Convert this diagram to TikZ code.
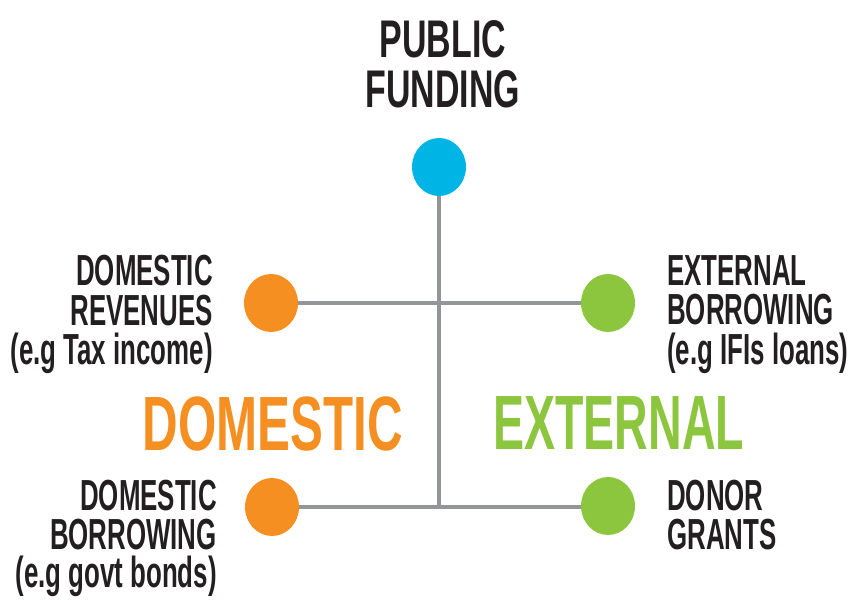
\documentclass[tikz,border=0pt]{standalone}
\usepackage{fontspec}
\usetikzlibrary{shapes.geometric}
\newfontfamily\cfsmall[FakeStretch=0.595]{Liberation Sans}
\newfontfamily\cfbig[FakeStretch=0.64]{Liberation Sans}
\newfontfamily\cfbigb[FakeStretch=0.605]{Liberation Sans}
\definecolor{pfblue}{RGB}{0,181,230}
\definecolor{pforange}{RGB}{245,143,34}
\definecolor{pfgreen}{RGB}{140,198,63}
\definecolor{pfgray}{RGB}{147,149,152}
\definecolor{pftext}{RGB}{35,31,32}
\tikzset{
  dot/.style={ellipse, inner sep=0pt, minimum width=54pt, minimum height=58pt},
  link/.style={draw=pfgray, line width=4pt},
  lbl/.style={inner sep=0pt, text=pftext, font=\cfsmall\bfseries\fontsize{43.5}{39.5}\selectfont},
  lbllow/.style={lbl, font=\cfsmall\bfseries\fontsize{43.5}{38.5}\selectfont},
  ttl/.style={inner sep=0pt, text=pftext, align=center, font=\cfbig\bfseries\fontsize{53}{50}\selectfont},
  grp/.style={inner sep=0pt, font=\cfbig\bfseries\fontsize{77}{77}\selectfont},
  grpb/.style={inner sep=0pt, font=\cfbigb\bfseries\fontsize{77}{77}\selectfont},
}
\begin{document}
\begin{tikzpicture}[x=1pt,y=-1pt]
\useasboundingbox (0,0) rectangle (850,599);
\coordinate (j2) at (439,507);
\node[dot, fill=pfblue] (pub) at (439,167) {};
\node[dot, fill=pforange] (dr) at (271,303) {};
\node[dot, fill=pfgreen] (eb) at (608,303) {};
\node[dot, fill=pforange] (db) at (272,507) {};
\node[dot, fill=pfgreen] (dg) at (608,506) {};
\draw[link] (pub.south) -- (j2);
\draw[link] (dr.east) -- (eb.west);
\draw[link] (db.east) -- (j2) -- (dg.west |- j2);
\node[ttl, anchor=north] (t) at (443,20) {PUBLIC\\FUNDING};
\node[lbl, anchor=north east, align=right] (l1) at (213,255) {DOMESTIC\\REVENUES\\(e.g Tax income)};
\node[lbl, anchor=north west, align=left] (l2) at (667,255) {EXTERNAL\\BORROWING\\(e.g IFIs loans)};
\node[lbllow, anchor=north east, align=right] (l3) at (217,480) {DOMESTIC\\BORROWING\\(e.g govt bonds)};
\node[lbllow, anchor=north west, align=left] (l4) at (667,480) {DONOR\\GRANTS};
\node[grp, text=pforange, anchor=north east] (gd) at (403,397) {DOMESTIC};
\node[grpb, text=pfgreen, anchor=north west] (ge) at (493,396) {EXTERNAL};
\end{tikzpicture}
\end{document}
